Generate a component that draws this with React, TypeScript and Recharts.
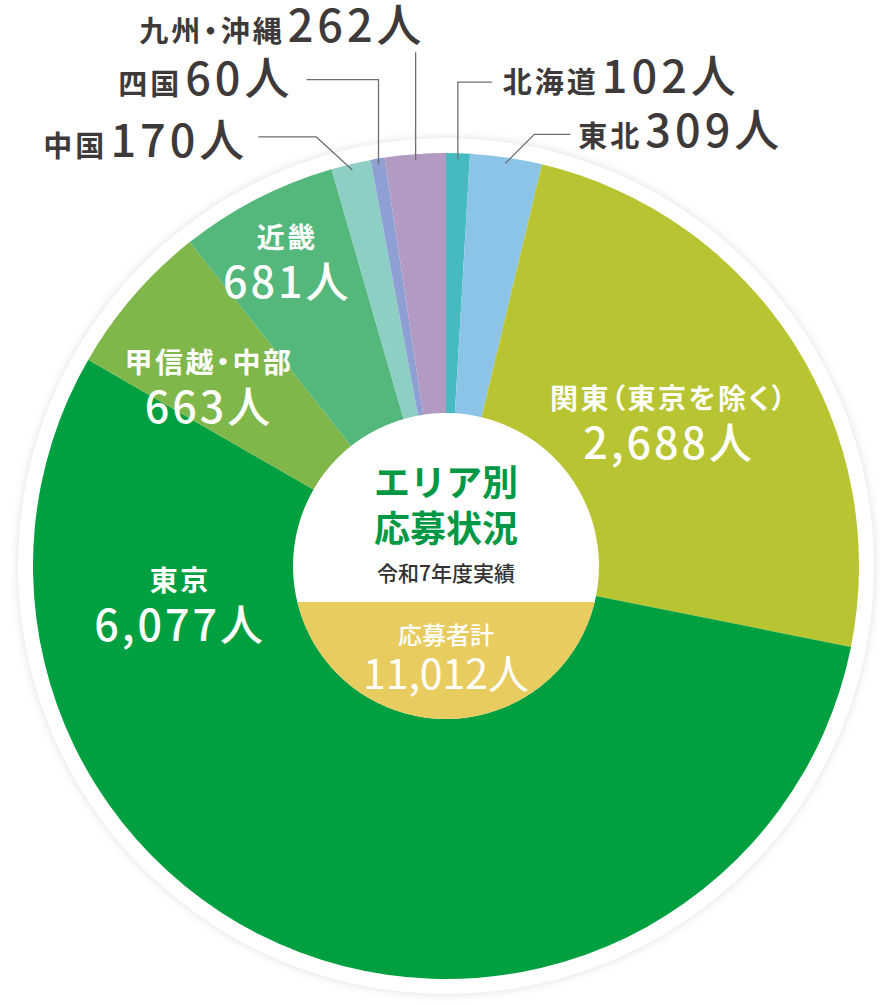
import { PieChart, Pie, Cell } from "recharts";

const regions = [
  "北海道",
  "東北",
  "関東（東京を除く）",
  "東京",
  "甲信越・中部",
  "近畿",
  "中国",
  "四国",
  "九州・沖縄",
];
const applicants = [102, 309, 2688, 6077, 663, 681, 170, 60, 262];
const sliceColors = [
  "#45bbc1",
  "#8cc4e8",
  "#b8c431",
  "#009f3f",
  "#7fb74b",
  "#54b77c",
  "#8ecfc5",
  "#8d9fd3",
  "#b29ac2",
];
const titleLines = ["エリア別", "応募状況"];
const subtitle = "令和7年度実績";
const totalLabel = "応募者計";

const data = regions.map((name, i) => ({ name, value: applicants[i] }));
const total = applicants.reduce((a, b) => a + b, 0);
const fmt = (n: number) => n.toLocaleString("en-US") + "人";

const FONT = '"Noto Sans CJK JP", "Noto Sans", sans-serif';
const DARK = "#3e3a39";
const GREEN = "#009844";
const YELLOW = "#e9cc5f";
const RAD = Math.PI / 180;
const PALT = { fontFeatureSettings: '"palt"' };

// where each label goes: inside ones sit on a radius (shift = degrees clockwise),
// outside ones get a leader line (elbow + tail) and text offset from the tail end
type Inside = { kind: "in"; r: number; shift: number };
type Outside = {
  kind: "out";
  elbow: [number, number];
  tail: number;
  text: [number, number];
  anchor: "start" | "end";
};
const labelLayout: Record<string, Inside | Outside> = {
  北海道: { kind: "out", elbow: [0, -77], tail: 34, text: [11, 11], anchor: "start" },
  東北: { kind: "out", elbow: [29, -29], tail: 36, text: [8, 13], anchor: "start" },
  "関東（東京を除く）": { kind: "in", r: 268, shift: -1 },
  東京: { kind: "in", r: 268, shift: 62 },
  "甲信越・中部": { kind: "in", r: 300, shift: -3 },
  近畿: { kind: "in", r: 347, shift: 0 },
  中国: { kind: "out", elbow: [-36, -33], tail: -58, text: [-10, 20], anchor: "end" },
  四国: { kind: "out", elbow: [0, -85], tail: -72, text: [-13, 15], anchor: "end" },
  "九州・沖縄": { kind: "out", elbow: [0, -108], tail: 0, text: [10, -10], anchor: "end" },
};

function renderLabel(props: any) {
  const { cx, cy, midAngle, outerRadius, index } = props;
  const name = regions[index];
  const value = applicants[index];
  const lay = labelLayout[name];
  const cw = 90 - midAngle; // degrees clockwise from 12 o'clock

  if (lay.kind === "in") {
    const a = (cw + lay.shift) * RAD;
    const x = cx + lay.r * Math.sin(a);
    const y = cy - lay.r * Math.cos(a);
    return (
      <g>
        <text
          x={x}
          y={y - 21}
          textAnchor="middle"
          dominantBaseline="central"
          fill="#fff"
          fontFamily={FONT}
          fontWeight={700}
          fontSize={28}
          letterSpacing={2.5}
          style={PALT}
        >
          {name}
        </text>
        <text
          x={x}
          y={y + 22}
          textAnchor="middle"
          dominantBaseline="central"
          fill="#fff"
          fontFamily={FONT}
          fontWeight={500}
          fontSize={43}
          letterSpacing={3}
        >
          {fmt(value)}
        </text>
      </g>
    );
  }

  const r0 = outerRadius - 6;
  const sx = cx + r0 * Math.sin(cw * RAD);
  const sy = cy - r0 * Math.cos(cw * RAD);
  const ex = sx + lay.elbow[0];
  const ey = sy + lay.elbow[1];
  const tx = ex + lay.tail;
  return (
    <g>
      <polyline
        points={`${sx},${sy} ${ex},${ey} ${tx},${ey}`}
        fill="none"
        stroke="#6f6f6f"
        strokeWidth={1.3}
      />
      <text
        x={tx + lay.text[0]}
        y={ey + lay.text[1]}
        textAnchor={lay.anchor}
        fill={DARK}
        fontFamily={FONT}
      >
        <tspan fontSize={29} fontWeight={700} letterSpacing={3} style={PALT}>
          {name}
        </tspan>
        <tspan dx={3} fontSize={45} fontWeight={500} letterSpacing={4}>
          {fmt(value)}
        </tspan>
      </text>
    </g>
  );
}

function renderCenter(props: any) {
  const { cx, cy, outerRadius: R } = props;
  const d = 36;
  const w = Math.sqrt(R * R - d * d);
  return (
    <g>
      <path
        d={`M ${cx - w} ${cy + d} A ${R} ${R} 0 0 0 ${cx + w} ${cy + d} Z`}
        fill={YELLOW}
      />
      {titleLines.map((t, i) => (
        <text
          key={t}
          x={cx}
          y={cy - 86 + i * 46}
          textAnchor="middle"
          dominantBaseline="central"
          fill={GREEN}
          fontFamily={FONT}
          fontWeight={700}
          fontSize={36}
        >
          {t}
        </text>
      ))}
      <text
        x={cx}
        y={cy + 6}
        textAnchor="middle"
        dominantBaseline="central"
        fill="#333"
        fontFamily={FONT}
        fontWeight={500}
        fontSize={21}
      >
        {subtitle}
      </text>
      <text
        x={cx}
        y={cy + 67}
        textAnchor="middle"
        dominantBaseline="central"
        fill="#fff"
        fontFamily={FONT}
        fontWeight={500}
        fontSize={24}
      >
        {totalLabel}
      </text>
      <text
        x={cx}
        y={cy + 105}
        textAnchor="middle"
        dominantBaseline="central"
        fill="#fff"
        fontFamily={FONT}
        fontWeight={400}
        fontSize={41}
      >
        {fmt(total)}
      </text>
    </g>
  );
}

export default function App() {
  return (
    <div style={{ position: "absolute", left: 0, top: 0, width: 880, height: 1005, background: "#fff" }}>
      <PieChart width={880} height={1005} margin={{ top: 0, right: 0, bottom: 0, left: 0 }}>
        <Pie
          data={[{ name: "ring", value: 1 }]}
          dataKey="value"
          cx={446}
          cy={566}
          outerRadius={428}
          startAngle={90}
          endAngle={-270}
          fill="#fff"
          stroke="none"
          style={{ filter: "drop-shadow(0 0 4px rgba(0,0,0,0.13))" }}
          isAnimationActive={false}
        />
        <Pie
          data={data}
          dataKey="value"
          nameKey="name"
          cx={446}
          cy={566}
          outerRadius={413}
          startAngle={90}
          endAngle={-270}
          stroke="none"
          label={renderLabel}
          labelLine={false}
          isAnimationActive={false}
        >
          {data.map((d, i) => (
            <Cell key={d.name} fill={sliceColors[i]} />
          ))}
        </Pie>
        <Pie
          data={[{ name: "center", value: 1 }]}
          dataKey="value"
          cx={446}
          cy={566}
          outerRadius={153}
          startAngle={90}
          endAngle={-270}
          fill="#fff"
          stroke="none"
          label={renderCenter}
          labelLine={false}
          isAnimationActive={false}
        />
      </PieChart>
    </div>
  );
}
